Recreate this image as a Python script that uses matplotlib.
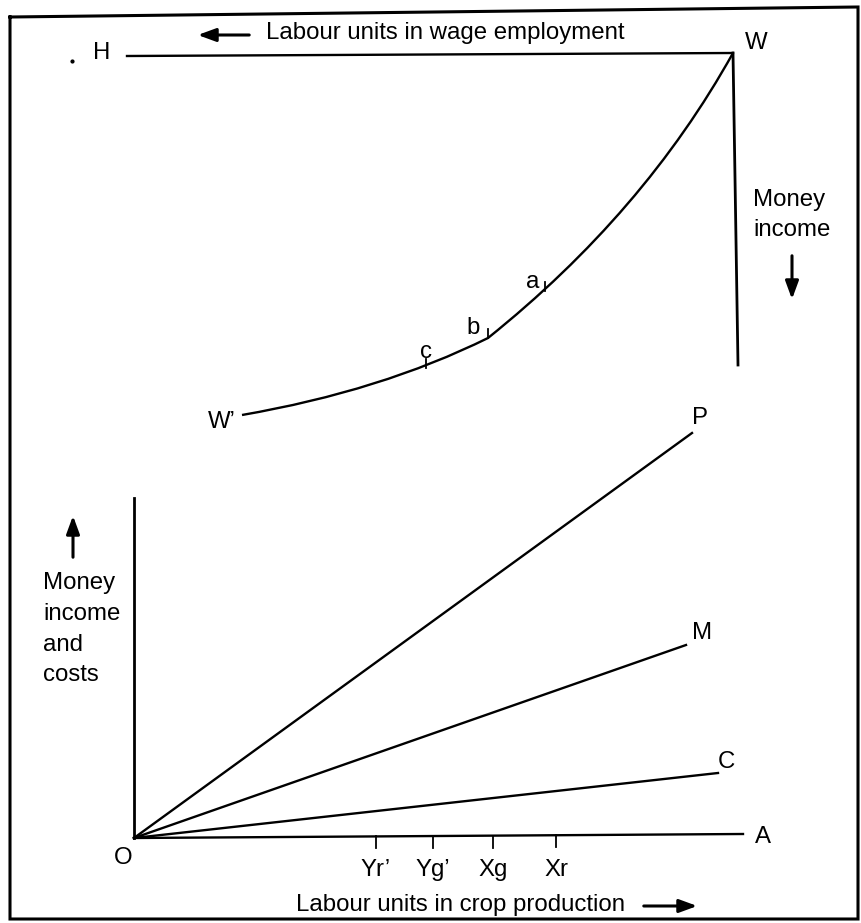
import matplotlib
matplotlib.use("Agg")
import matplotlib.pyplot as plt
from matplotlib.path import Path
from matplotlib.patches import PathPatch

plt.rcParams['font.family'] = ['Liberation Sans', 'DejaVu Sans']

# picture is drawn in pixel units of the original (x right, y down)
W_PX, H_PX = 861, 923

# frame round the diagram
frame_x = [10, 858, 858, 10, 10]
frame_y = [17, 7, 919, 919, 17]

# upper panel: wage employment box
h_line_x = [127, 733]
h_line_y = [56, 53]
w_drop_x = [733, 738]
w_drop_y = [53, 365]

# W'W curve: W', control, b, control, W (two quadratic pieces)
curve_pts = [(242, 415), (381, 391), (488, 338), (644, 213), (733, 53)]

# tick marks on the curve
curve_ticks = {'a': (545, 291), 'b': (488, 338), 'c': (426, 368)}
curve_tick_labels = {'a': (533, 282), 'b': (473, 328), 'c': (426, 352)}

# lower panel: straight lines out of O
origin = (134, 838)
ray_ends = {'P': (692, 433), 'M': (686, 645), 'C': (718, 773), 'A': (743, 834)}
ray_labels = {'P': (700, 418), 'M': (702, 633), 'C': (726, 762), 'A': (763, 837)}
y_axis_top = 498

# ticks on the crop-production axis
x_tick_names = ["Yr\u2019", "Yg\u2019", "Xg", "Xr"]
x_tick_pos = [376, 433, 493, 556]

left_label = ["Money", "income", "and", "costs"]
left_label_y = [583, 614, 645, 675]

fig = plt.figure(figsize=(W_PX / 100, H_PX / 100), dpi=100)
ax = fig.add_axes([0, 0, 1, 1])
ax.set_xlim(0, W_PX)
ax.set_ylim(H_PX, 0)
ax.axis('off')

lw = 1.7
fs = 17.3
k = 'black'
arrow = dict(arrowstyle='-|>,head_length=0.6,head_width=0.22', color=k, lw=2.2,
             mutation_scale=18)

ax.plot(frame_x, frame_y, color=k, lw=2.2, solid_joinstyle='miter')

# upper panel
ax.plot(h_line_x, h_line_y, color=k, lw=lw)
ax.plot(w_drop_x, w_drop_y, color=k, lw=2.0)
codes = [Path.MOVETO, Path.CURVE3, Path.CURVE3, Path.CURVE3, Path.CURVE3]
ax.add_patch(PathPatch(Path(curve_pts, codes), fill=False, color=k, lw=lw))
for name, (tx, ty) in curve_ticks.items():
    ax.plot([tx, tx], [ty, ty - 9], color=k, lw=1.3)
    lx, ly = curve_tick_labels[name]
    ax.text(lx, ly, name, fontsize=fs, ha='center', va='center')

ax.text(102, 53, "H", fontsize=fs, ha='center', va='center')
ax.plot([72], [61], marker='o', ms=2, color=k)
ax.text(756, 43, "W", fontsize=fs, ha='center', va='center')
ax.text(222, 422, "W\u2019", fontsize=fs, ha='center', va='center')

ax.text(266, 33, "Labour units in wage employment", fontsize=fs, ha='left', va='center')
ax.annotate("", xy=(195, 35), xytext=(252, 35), arrowprops=arrow)

ax.text(753, 200, "Money", fontsize=fs, ha='left', va='center')
ax.text(753, 230, "income", fontsize=fs, ha='left', va='center')
ax.annotate("", xy=(792, 302), xytext=(792, 253), arrowprops=arrow)

# lower panel
ox, oy = origin
ax.plot([ox, ox], [y_axis_top, oy], color=k, lw=2.0)
for name, (ex, ey) in ray_ends.items():
    ax.plot([ox, ex], [oy, ey], color=k, lw=lw)
    lx, ly = ray_labels[name]
    ax.text(lx, ly, name, fontsize=fs, ha='center', va='center')

ax.text(123, 858, "O", fontsize=fs, ha='center', va='center')

for name, tx in zip(x_tick_names, x_tick_pos):
    ty = oy + (ray_ends['A'][1] - oy) * (tx - ox) / (ray_ends['A'][0] - ox)
    ax.plot([tx, tx], [ty, ty + 12], color=k, lw=1.3)
    ax.text(tx, 870, name, fontsize=fs, ha='center', va='center')

ax.text(460, 905, "Labour units in crop production", fontsize=fs, ha='center', va='center')
ax.annotate("", xy=(700, 906), xytext=(641, 906), arrowprops=arrow)

for s, ty in zip(left_label, left_label_y):
    ax.text(43, ty, s, fontsize=fs, ha='left', va='center')
ax.annotate("", xy=(73, 513), xytext=(73, 560), arrowprops=arrow)

fig.savefig("out.png", dpi=100)
